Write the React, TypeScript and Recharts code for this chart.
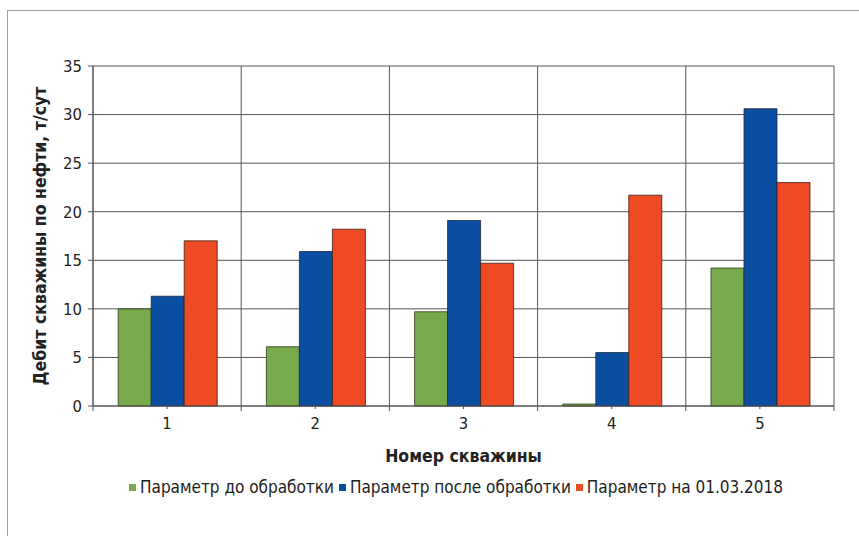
import React from 'react';
import * as R from 'recharts';
import { BarChart, Bar, XAxis, YAxis, CartesianGrid, Legend, Label } from 'recharts';

const wells = ['1', '2', '3', '4', '5'];
const beforeTreatment = [10.0, 6.1, 9.7, 0.2, 14.2];
const afterTreatment = [11.3, 15.9, 19.1, 5.5, 30.6];
const onDate = [17.0, 18.2, 14.7, 21.7, 23.0];
const yTicks = [0, 5, 10, 15, 20, 25, 30, 35];

const seriesNames = ['Параметр до обработки', 'Параметр после обработки', 'Параметр на 01.03.2018'];
const seriesColors = ['#78a94a', '#0a4ea2', '#ee4b24'];
const seriesStrokes = ['#2b3a20', '#1a2a40', '#3a1e15'];
const seriesKeys = ['before', 'after', 'onDate'];

const data = wells.map((w, i) => ({
  well: w,
  before: beforeTreatment[i],
  after: afterTreatment[i],
  onDate: onDate[i],
}));

const FONT = "'Liberation Sans Narrow', 'DejaVu Sans Condensed', 'Roboto Condensed', 'Liberation Sans', sans-serif";
const GRID = '#555555';
const RA = R as any;

function usePlot() {
  if (RA.usePlotArea) return RA.usePlotArea();
  const off = RA.useOffset ? RA.useOffset() : null;
  const w = RA.useChartWidth ? RA.useChartWidth() : 0;
  const h = RA.useChartHeight ? RA.useChartHeight() : 0;
  if (!off) return null;
  return { x: off.left, y: off.top, width: w - off.left - off.right, height: h - off.top - off.bottom };
}

// Category boundary gridlines and tick marks (Excel-style "between tick marks")
function CategoryBoundaries() {
  const area = usePlot();
  if (!area) return null;
  const n = wells.length;
  const lines = [];
  for (let i = 0; i <= n; i++) {
    const x = area.x + (area.width * i) / n;
    lines.push(
      <line key={'g' + i} x1={x} x2={x} y1={area.y} y2={area.y + area.height + 5} stroke={GRID} strokeWidth={1} />
    );
  }
  return <g className="category-boundaries">{lines}</g>;
}

function LegendContent() {
  return (
    <div style={{ display: 'flex', justifyContent: 'center', alignItems: 'center', paddingLeft: 58, fontSize: 17, fontFamily: FONT, color: '#222', whiteSpace: 'nowrap' }}>
      {seriesNames.map((n, i) => (
        <span key={n} style={{ display: 'inline-flex', alignItems: 'center', marginRight: 5 }}>
          <span style={{ display: 'inline-block', width: 7, height: 7, background: seriesColors[i], marginRight: 4 }} />
          <span>{n}</span>
        </span>
      ))}
    </div>
  );
}

export default function App() {
  return (
    <div style={{ position: 'absolute', left: 0, top: 0, width: 859, height: 536, background: '#fff', fontFamily: FONT }}>
      <div style={{ position: 'absolute', left: 7, top: 10, right: 0, bottom: 0, borderLeft: '1.5px solid #a0a0a0', borderTop: '1.5px solid #a0a0a0' }} />
      <div style={{ position: 'absolute', left: 0, top: 0 }}>
        <BarChart
          width={859}
          height={536}
          data={data}
          margin={{ top: 66, right: 25, left: 0, bottom: 54 }}
          barCategoryGap="17%"
          barGap={0}
        >
          <CartesianGrid stroke={GRID} strokeWidth={1} vertical={false} horizontal />
          <XAxis
            dataKey="well"
            height={56}
            axisLine={{ stroke: GRID }}
            tickLine={{ stroke: GRID }}
            tickSize={3}
            tick={{ fill: '#222', fontSize: 16.5, fontFamily: FONT }}
            tickMargin={8}
          >
            <Label
              value="Номер скважины"
              position="insideBottom"
              offset={0}
              style={{ fill: '#222', fontSize: 17.5, fontWeight: 'bold', fontFamily: FONT }}
            />
          </XAxis>
          <YAxis
            width={93}
            domain={[0, 35]}
            ticks={yTicks}
            interval={0}
            axisLine={{ stroke: GRID }}
            tickLine={{ stroke: GRID }}
            tickSize={5}
            tickMargin={6}
            tick={{ fill: '#222', fontSize: 16.5, fontFamily: FONT }}
          >
            <Label
              value="Дебит скважины по нефти, т/сут"
              angle={-90}
              position="insideLeft"
              offset={40}
              style={{ textAnchor: 'middle', fill: '#222', fontSize: 17.5, fontWeight: 'bold', fontFamily: FONT }}
            />
          </YAxis>
          <Legend
            verticalAlign="bottom"
            align="center"
            content={() => <LegendContent />}
            wrapperStyle={{ left: 0, width: 859, top: 477 }}
          />
          <CategoryBoundaries />
          {seriesKeys.map((k, i) => (
            <Bar
              key={k}
              dataKey={k}
              name={seriesNames[i]}
              fill={seriesColors[i]}
              stroke={seriesStrokes[i]}
              strokeWidth={0.8}
              isAnimationActive={false}
            />
          ))}
        </BarChart>
      </div>
    </div>
  );
}
